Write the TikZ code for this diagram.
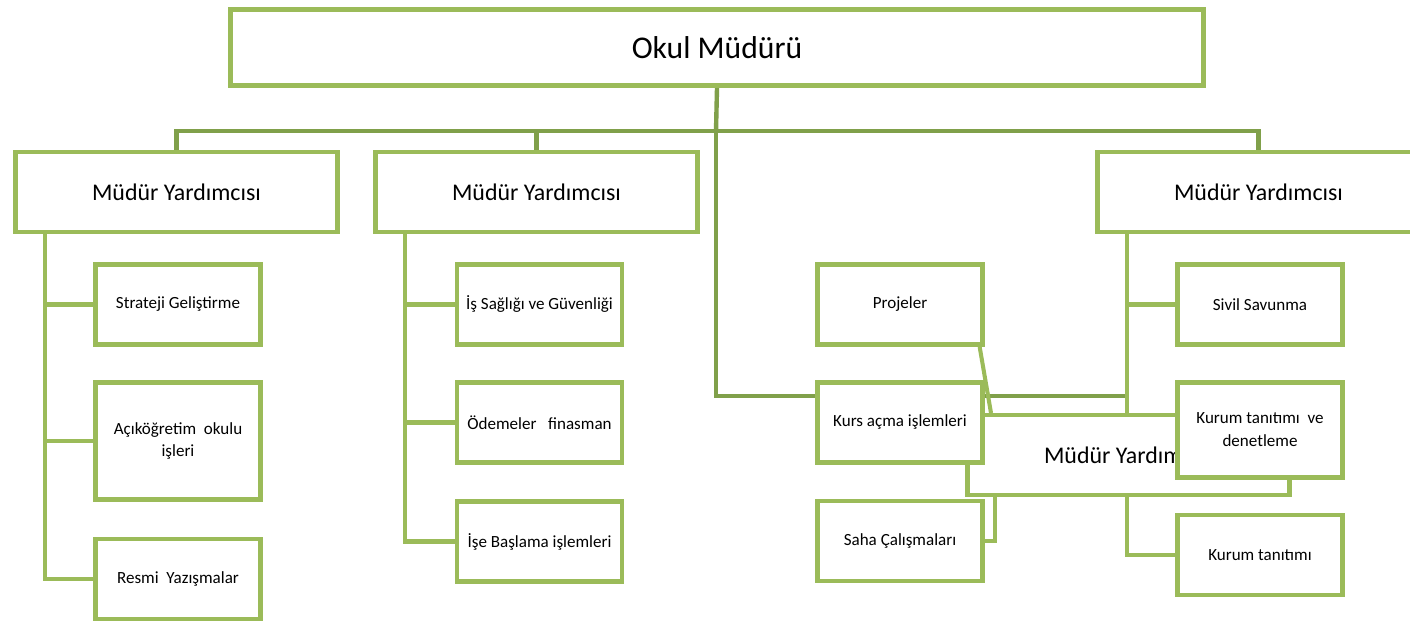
\documentclass[tikz,border=0pt]{standalone}
\usepackage{fontspec}
\setmainfont{Carlito}
\usepackage{xcolor}
\definecolor{olive}{HTML}{9BBB59}
\definecolor{olivedark}{HTML}{80A04A}
\usepackage{tikz}
\usetikzlibrary{positioning, backgrounds}
\tikzset{
    box/.style = {draw=olive, fill=white, line width=2.8pt, minimum width=3.3cm,
                  minimum height=1.6cm, align=center, inner sep=1pt,
                  font=\fontsize{9.7}{13}\selectfont},
    mybox/.style = {box, minimum width=6.44cm, font=\fontsize{13.6}{16}\selectfont},
    link/.style = {draw=olive, line width=2.3pt},
    trunk/.style = {draw=olivedark, line width=2.5pt},
}

\begin{document}
\begin{tikzpicture}[x=0.02cm, y=-0.02cm]
        \useasboundingbox (0,0) rectangle (1410,620);
        \node[box, minimum width=19.46cm, minimum height=1.52cm, font=\fontsize{18}{21}\selectfont] (principal) at (717,47.5) {Okul Müdürü};
        \node[mybox] (my1) at (176.5,192) {Müdür Yardımcısı};
        \node[mybox] (my2) at (536.5,192) {Müdür Yardımcısı};
        \node[mybox] (my4) at (1258.5,192) {Müdür Yardımcısı};
        \node[box] (strateji) at (178,304.5) {Strateji Geliştirme};
        \node[box, minimum height=2.34cm] (acik) at (178,441) {Açıköğretim\ \ okulu\\işleri};
        \node[box] (resmi) at (178,579) {Resmi\ \ Yazışmalar};
        \node[box] (isg) at (539.5,304.5) {İş Sağlığı ve Güvenliği};
        \node[box] (odeme) at (539.5,422.5) {Ödemeler\ \ \ finasman};
        \node[box] (ise) at (539.5,541.5) {İşe Başlama\ işlemleri};
        \node[box] (projeler) at (900,304.5) {Projeler};
        \node[mybox] (my5) at (1128.5,455) {Müdür Yardımcısı};
        \node[box] (kurs) at (900,422.5) {Kurs açma\ işlemleri};
        \node[box] (saha) at (900,541) {Saha Çalışmaları};
        \node[box] (sivil) at (1260,304.5) {Sivil Savunma};
        \node[box, minimum height=1.9cm] (denetleme) at (1260,430) {Kurum tanıtımı\ \ ve\\denetleme};
        \node[box] (tanitim) at (1260,555) {Kurum tanıtımı};
        \coordinate (bar) at (716,131);
        \coordinate (elbow) at (716,396);
        \coordinate (sp1) at (45,234);
        \coordinate (sp2) at (405,234);
        \coordinate (sp4) at (1127,234);
        \coordinate (sp5) at (995,455);
        \coordinate (slant) at (991,413);
        \begin{scope}[on background layer]
            \draw[trunk] (principal.south) -- (bar);
            \draw[trunk] (my1.north) |- (bar);
            \draw[trunk] (my2.north) |- (bar);
            \draw[trunk] (my4.north) |- (bar);
            \draw[trunk] (bar) -- (elbow) -- (sp4 |- elbow);
            \draw[link] (sp1) |- (resmi.west);
            \draw[link] (sp1 |- strateji) -- (strateji.west);
            \draw[link] (sp1 |- acik) -- (acik.west);
            \draw[link] (sp2) |- (ise.west);
            \draw[link] (sp2 |- isg) -- (isg.west);
            \draw[link] (sp2 |- odeme) -- (odeme.west);
            \draw[link] (sp4) |- (tanitim.west);
            \draw[link] (sp4 |- sivil) -- (sivil.west);
            \draw[link] (sp4 |- denetleme) -- (denetleme.west);
            \draw[link] (sp5) |- (saha.east);
            \draw[link] ([xshift=-3pt]projeler.south east) -- (slant);
        \end{scope}
      \end{tikzpicture}
\end{document}
